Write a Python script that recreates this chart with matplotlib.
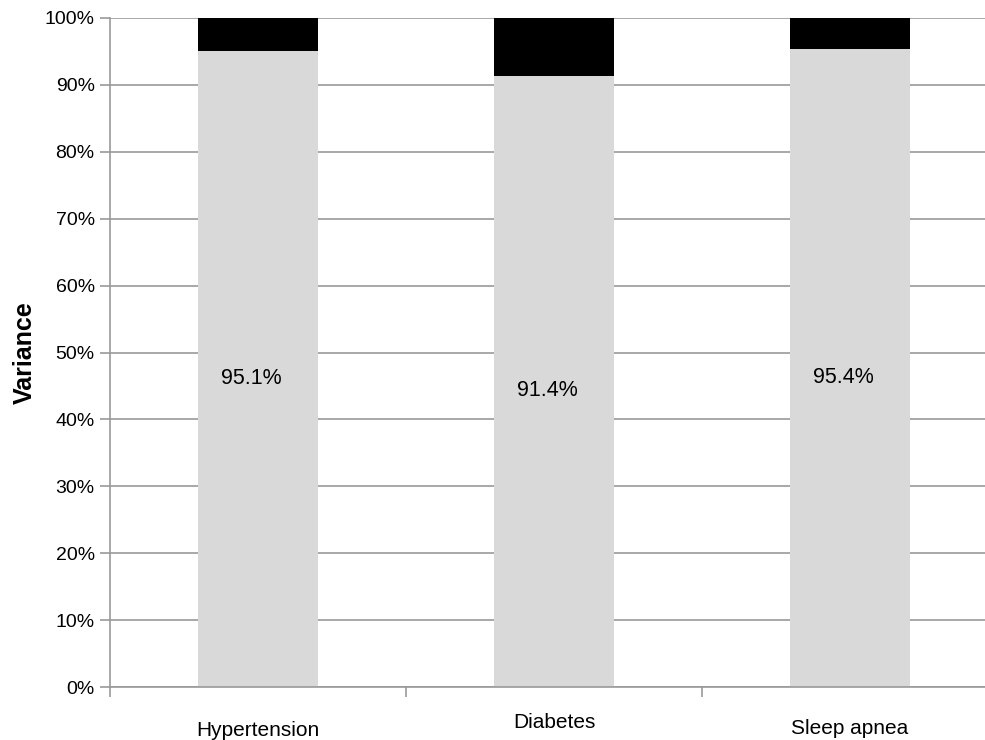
import matplotlib
matplotlib.use("Agg")
import matplotlib.pyplot as plt
import numpy as np

categories = ["Hypertension", "Diabetes", "Sleep apnea"]
explained = [95.1, 91.4, 95.4]
residual = [4.9, 8.6, 4.6]
value_labels = ["95.1%", "91.4%", "95.4%"]
yticks = [0, 10, 20, 30, 40, 50, 60, 70, 80, 90, 100]
label_offsets = [-43, -35, -41]  # pixels below axis (visual stagger)

plt.rcParams['font.family'] = ['Liberation Sans', 'DejaVu Sans']

W, H = 985, 740
fig = plt.figure(figsize=(W / 100, H / 100), dpi=100)
left, right, top, bottom = 110, 998, 18, 687
ax = fig.add_axes([left / W, 1 - bottom / H, (right - left) / W, (bottom - top) / H])

x = np.arange(len(categories)) + 0.5
bw = 0.405
ax.bar(x, explained, width=bw, color="#d9d9d9", zorder=2)
ax.bar(x, residual, width=bw, bottom=explained, color="#000000", zorder=2)

for xi, v, lab in zip(x, explained, value_labels):
    ax.annotate(lab, xy=(xi, v / 2), xytext=(-5, -7), textcoords="offset points",
                ha="center", va="center", fontsize=15.5, color="#000000", zorder=3)

ax.set_xlim(0, 3)
ax.set_ylim(0, 100)
ax.set_yticks(yticks)
ax.set_yticklabels([f"{t}%" for t in yticks], fontsize=14)
ax.yaxis.grid(True, color="#999999", linewidth=1.2, zorder=0)
ax.set_axisbelow(True)

ax.set_xticks([0, 1, 2, 3])
ax.set_xticklabels([])
for xi, cat, off in zip(x, categories, label_offsets):
    ax.annotate(cat, xy=(xi, 0), xycoords=("data", "axes fraction"),
                xytext=(0, off * 0.72), textcoords="offset points",
                ha="center", va="center", fontsize=15, annotation_clip=False)

for s in ["top", "right"]:
    ax.spines[s].set_visible(False)
for s in ["left", "bottom"]:
    ax.spines[s].set_color("#999999")
    ax.spines[s].set_linewidth(1.2)
ax.tick_params(axis="both", direction="out", length=7, color="#999999", width=1.2)
ax.tick_params(axis="y", pad=4)

ax.set_ylabel("Variance", fontsize=18, fontweight="bold", labelpad=6)

fig.savefig("out.png", dpi=100)
